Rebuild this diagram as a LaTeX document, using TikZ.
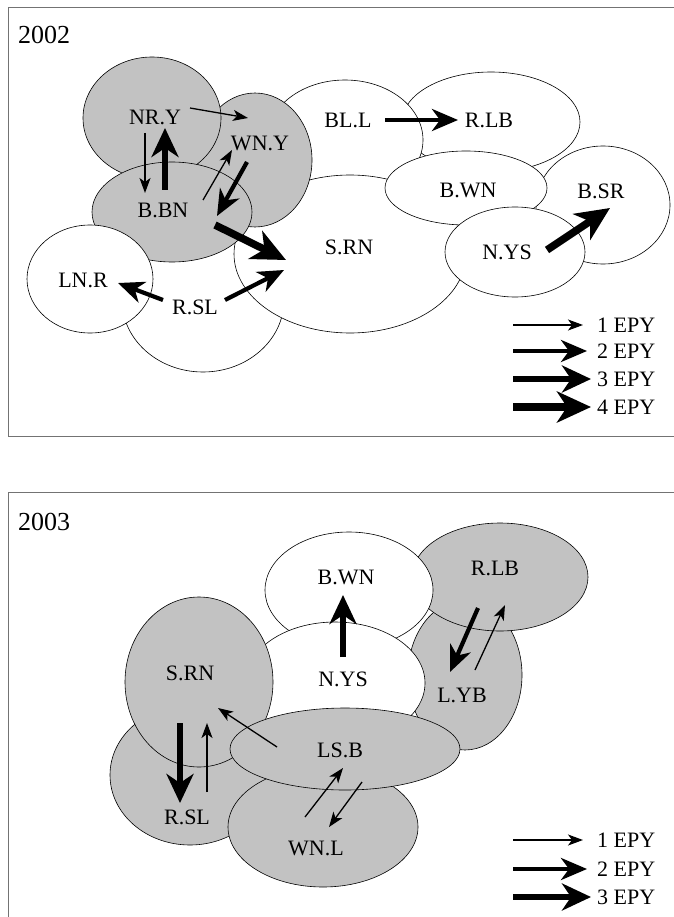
\documentclass[tikz,border=0pt]{standalone}
\usepackage{fontspec}
\setmainfont{Liberation Serif}
\usetikzlibrary{arrows.meta}

\begin{document}
\begin{tikzpicture}[x=1pt,y=-1pt,
  lbl/.style={font=\fontsize{22}{26}\selectfont, inner sep=0pt},
  yr/.style={font=\fontsize{26}{30}\selectfont, inner sep=0pt, anchor=west},
  key/.style={lbl, anchor=west},
  box/.style={draw=black!55, line width=0.8pt},
  shade/.style={draw, line width=0.6pt, fill=black!24},
  plain/.style={draw, line width=0.6pt, fill=white},
  epyone/.style={line width=1.3pt, -{Stealth[length=15pt,width=11pt,inset=4pt]}},
  epytwo/.style={line width=4.2pt, -{Stealth[length=26pt,width=22pt,inset=8pt]}},
  epythree/.style={line width=5.6pt, -{Stealth[length=29pt,width=27pt,inset=9pt]}},
  epyfour/.style={line width=7.5pt, -{Stealth[length=34pt,width=31pt,inset=10pt]}}]

\useasboundingbox (0,0) rectangle (673,917);
\draw[box] (8,7) rectangle (690,436);
\draw[box] (8,492) rectangle (690,940);

% 2002
\path[plain] (203,300) ellipse [x radius=81, y radius=72];
\path[plain] (603,205) ellipse [x radius=67, y radius=59];
\path[plain] (491,122) ellipse [x radius=89, y radius=50];
\path[plain] (345,140) ellipse [x radius=78, y radius=60];
\path[plain] (350,254) ellipse [x radius=116, y radius=79];
\path[plain] (466,188) ellipse [x radius=81, y radius=37];
\path[plain] (515,252) ellipse [x radius=70, y radius=45];
\path[shade] (255,160) ellipse [x radius=57, y radius=67];
\path[shade] (152,118) ellipse [x radius=69, y radius=61];
\path[shade] (172,212) ellipse [x radius=80, y radius=50];
\path[plain] (90,279) ellipse [x radius=63, y radius=54];

\node[yr] (y02) at (18,35) {2002};
\node[lbl] (nry) at (155,117) {NR.Y};
\node[lbl] (wny) at (260,143) {WN.Y};
\node[lbl] (bbn) at (163,210) {B.BN};
\node[lbl] (bll) at (348,120) {BL.L};
\node[lbl] (rlb) at (489,120) {R.LB};
\node[lbl] (bwn) at (468,190) {B.WN};
\node[lbl] (bsr) at (601,191) {B.SR};
\node[lbl] (nys) at (507,252) {N.YS};
\node[lbl] (srn) at (349,247) {S.RN};
\node[lbl] (lnr) at (83,280) {LN.R};
\node[lbl] (rsl) at (195,307) {R.SL};

\draw[epyone] ([shift={(35,-9)}]nry.center) -- ([shift={(-12,-25)}]wny.center);
\draw[epyone] ([shift={(-10,16)}]nry.center) -- ([shift={(-18,-17)}]bbn.center);
\draw[epythree] ([shift={(2,-20)}]bbn.center) -- ([shift={(10,11)}]nry.center);
\draw[epyone] ([shift={(40,-10)}]bbn.center) -- ([shift={(-28,7)}]wny.center);
\draw[epytwo] ([shift={(-13,19)}]wny.center) -- ([shift={(54,6)}]bbn.center);
\draw[epyfour] ([shift={(52,15)}]bbn.center) -- ([shift={(-63,13)}]srn.center);
\draw[epytwo] ([shift={(37,0)}]bll.center) -- ([shift={(-31,0)}]rlb.center);
\draw[epytwo] ([shift={(-32,-7)}]rsl.center) -- ([shift={(35,3)}]lnr.center);
\draw[epytwo] ([shift={(30,-7)}]rsl.center) -- ([shift={(-65,23)}]srn.center);
\draw[epyfour] ([shift={(40,-2)}]nys.center) -- ([shift={(9,17)}]bsr.center);

\node[key] (ka) at (597,325) {1 EPY};
\node[key] (kb) at (597,351) {2 EPY};
\node[key] (kc) at (597,379) {3 EPY};
\node[key] (kd) at (597,407) {4 EPY};
\draw[epyone] ([xshift=-84pt]ka.west) -- ([xshift=-14pt]ka.west);
\draw[epytwo] ([xshift=-84pt]kb.west) -- ([xshift=-10pt]kb.west);
\draw[epythree] ([xshift=-84pt]kc.west) -- ([xshift=-6pt]kc.west);
\draw[epyfour] ([xshift=-84pt]kd.west) -- ([xshift=-6pt]kd.west);

% 2003
\path[shade] (190,775) ellipse [x radius=80, y radius=70];
\path[shade] (465,675) ellipse [x radius=57, y radius=75];
\path[shade] (500,577) ellipse [x radius=88, y radius=54];
\path[plain] (349,590) ellipse [x radius=84, y radius=58];
\path[plain] (335,683) ellipse [x radius=90, y radius=61];
\path[shade] (199,682) ellipse [x radius=74, y radius=85];
\path[shade] (323,827) ellipse [x radius=95, y radius=60];
\path[shade] (345,749) ellipse [x radius=115, y radius=41];

\node[yr] (y03) at (18,522) {2003};
\node[lbl] (bwnb) at (346,577) {B.WN};
\node[lbl] (rlbb) at (495,568) {R.LB};
\node[lbl] (nysb) at (343,679) {N.YS};
\node[lbl] (lyb) at (462,695) {L.YB};
\node[lbl] (srnb) at (190,673) {S.RN};
\node[lbl] (lsb) at (340,750) {LS.B};
\node[lbl] (rslb) at (187,817) {R.SL};
\node[lbl] (wnl) at (316,848) {WN.L};

\draw[epythree] ([shift={(0,-22)}]nysb.center) -- ([shift={(-3,18)}]bwnb.center);
\draw[epytwo] ([shift={(-17,40)}]rlbb.center) -- ([shift={(-12,-23)}]lyb.center);
\draw[epyone] ([shift={(13,-25)}]lyb.center) -- ([shift={(10,37)}]rlbb.center);
\draw[epythree] ([shift={(-10,50)}]srnb.center) -- ([shift={(-7,-14)}]rslb.center);
\draw[epyone] ([shift={(20,-25)}]rslb.center) -- ([shift={(17,50)}]srnb.center);
\draw[epyone] ([shift={(-63,-3)}]lsb.center) -- ([shift={(28,35)}]srnb.center);
\draw[epyone] ([shift={(-11,-31)}]wnl.center) -- ([shift={(3,18)}]lsb.center);
\draw[epyone] ([shift={(22,32)}]lsb.center) -- ([shift={(13,-21)}]wnl.center);

\node[key] (ma) at (597,840) {1 EPY};
\node[key] (mb) at (597,869) {2 EPY};
\node[key] (mc) at (597,897) {3 EPY};
\draw[epyone] ([xshift=-84pt]ma.west) -- ([xshift=-14pt]ma.west);
\draw[epytwo] ([xshift=-84pt]mb.west) -- ([xshift=-10pt]mb.west);
\draw[epythree] ([xshift=-84pt]mc.west) -- ([xshift=-6pt]mc.west);
\end{tikzpicture}
\end{document}
